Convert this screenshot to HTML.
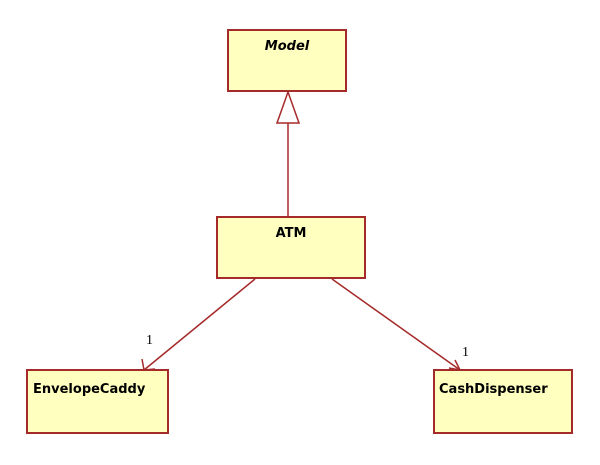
<!DOCTYPE html>
<html><head><style>
body{margin:0;background:#fff;}
svg{display:block}
text{font-family:"DejaVu Sans","Liberation Sans",sans-serif;font-weight:bold;font-size:13px;fill:#000}
</style></head><body>
<svg width="600" height="465" viewBox="0 0 600 465">
<g fill="#ffffc0" stroke="#a52a2a" stroke-width="2">
<rect x="228" y="30" width="118" height="61"/>
<rect x="217" y="217" width="148" height="61"/>
<rect x="27" y="370" width="141" height="63"/>
<rect x="434" y="370" width="138" height="63"/>
</g>
<g stroke="#a52a2a" stroke-width="1.5" fill="none">
<line x1="288" y1="123" x2="288" y2="217"/>
<polygon points="288,92 277,123 299,123" fill="#fff"/>
<line x1="255" y1="279" x2="144" y2="370"/>
<polyline points="142,359 144,370 155,369"/>
<line x1="332" y1="279" x2="460" y2="370"/>
<polyline points="449,368 460,370 455,360"/>
</g>
<text x="287" y="50" text-anchor="middle" font-style="italic">Model</text>
<text x="291" y="237" text-anchor="middle">ATM</text>
<text x="33" y="393">EnvelopeCaddy</text>
<text x="439" y="393">CashDispenser</text>
<text x="146" y="344" style="font-weight:normal;font-family:'Liberation Serif',serif;font-size:14px">1</text>
<text x="462" y="356" style="font-weight:normal;font-family:'Liberation Serif',serif;font-size:14px">1</text>
</svg>
</body></html>
